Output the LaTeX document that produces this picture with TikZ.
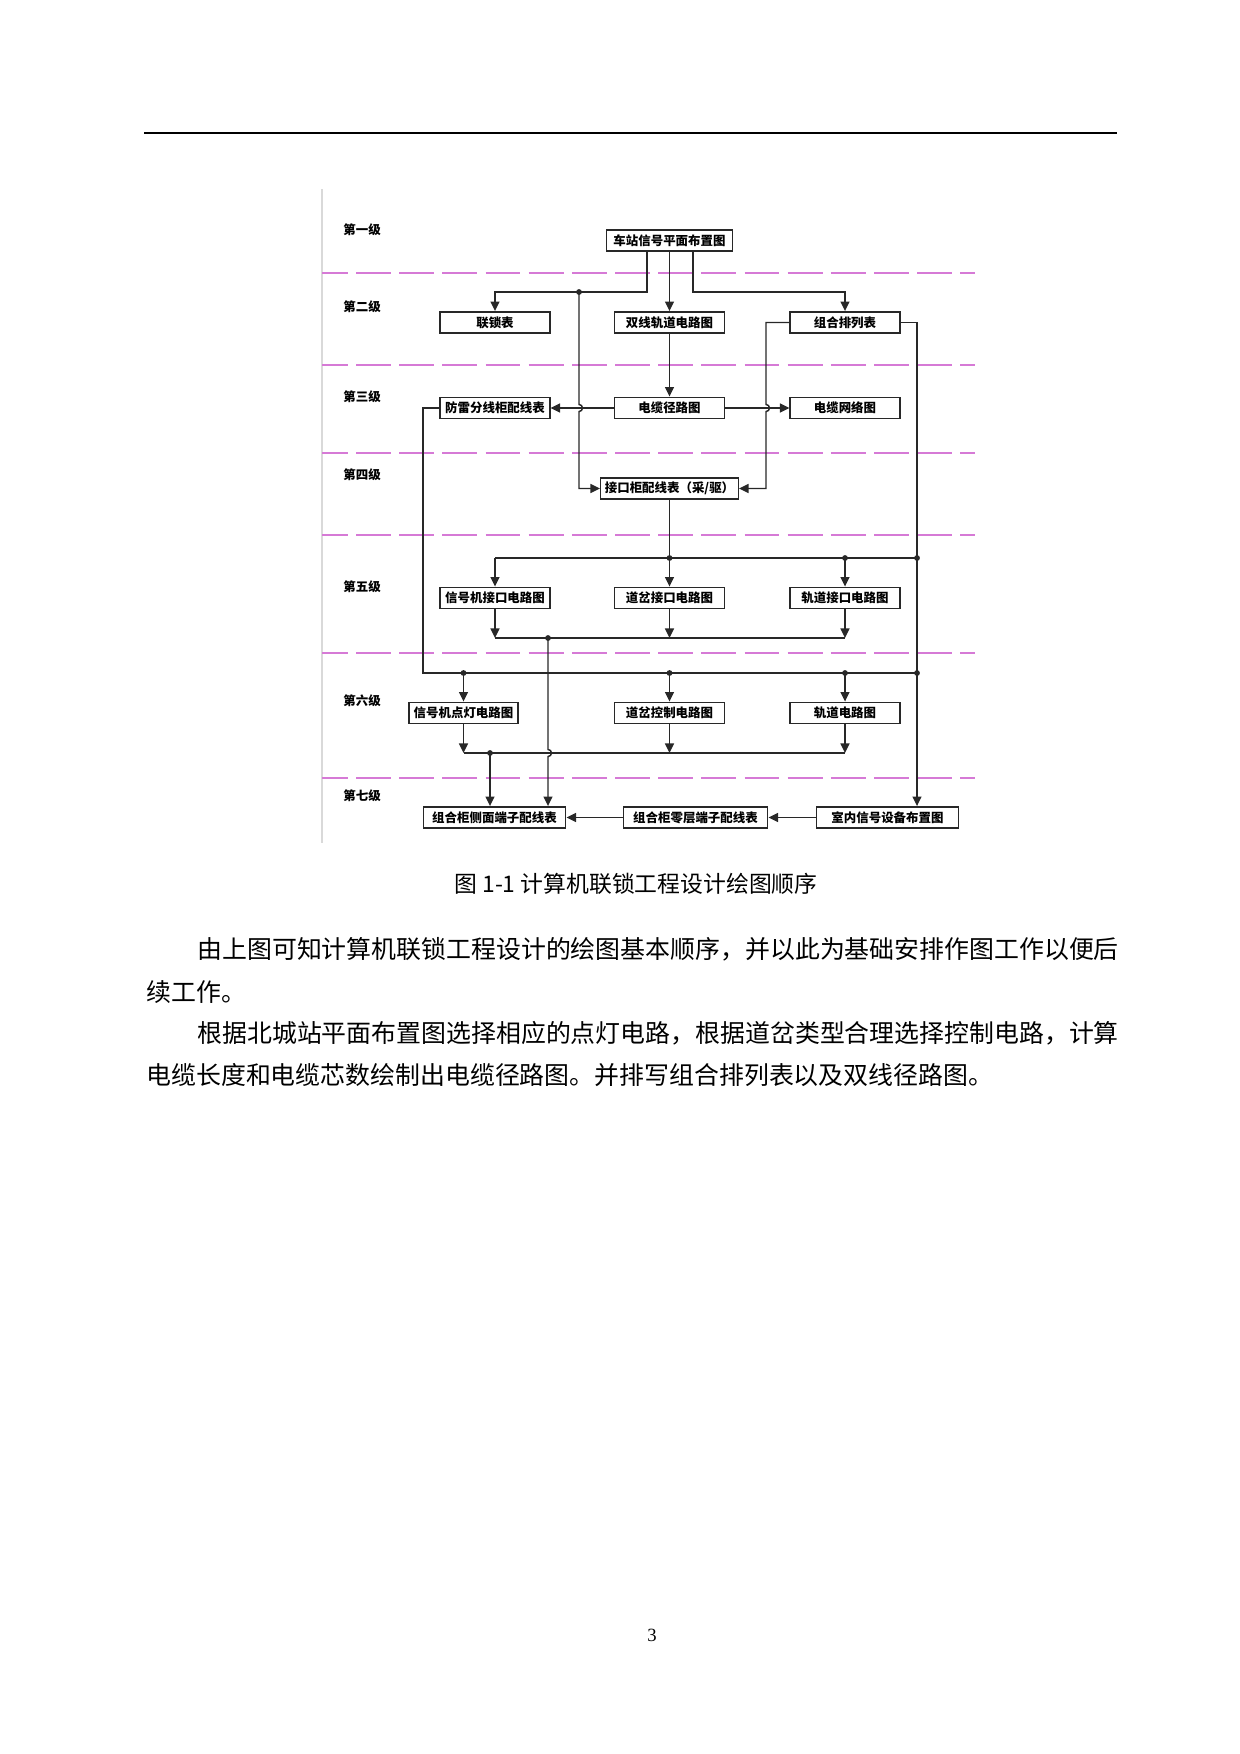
\documentclass[tikz,border=0pt]{standalone}
\usepackage{fontspec}
\usepackage{tikz}
\usetikzlibrary{arrows.meta}
\newfontfamily\cjk{Noto Sans CJK SC}
\newfontfamily\tnr{Liberation Serif}
\newcommand{\pxu}{0.48006pt}
\newcommand{\boxfont}{\cjk\bfseries\fontsize{6}{7}\selectfont}
\definecolor{ink}{RGB}{40,40,40}
\definecolor{levelline}{RGB}{214,122,214}

\begin{document}
\begin{tikzpicture}[x=0.169355mm,y=-0.169355mm,
	box/.style={draw=ink, line width=0.7pt, inner sep=0pt, minimum height=21.5*\pxu, minimum width=110*\pxu, font=\boxfont},
	wide/.style={box, minimum width=143*\pxu},
	link/.style={draw=ink, line width=0.7pt},
	arr/.style={link, -{Triangle[length=4.6pt,width=4.3pt]}},
	tier/.style={anchor=west, inner sep=0pt, font=\boxfont},
	levelsep/.style={levelline, line width=0.6pt, dash pattern=on 16.8pt off 4pt, dash phase=4.4pt},
	bodyline/.style={anchor=west, inner sep=0pt, font=\cjk\fontsize{12}{12}\selectfont}]
	\useasboundingbox (0,0) rectangle (1240,1754);

	% page rule and picture frame
	\draw[line width=0.75pt] (144,133) -- (1117,133);
	\draw[black!15, line width=0.5pt] (322,189) -- (322,843);

	% levels
	\foreach \y in {273,365,453,535,653,778}
		\draw[levelsep] (322,\y) -- (975,\y);
	\foreach \name/\y [count=\i] in {第一级/230, 第二级/307, 第三级/397, 第四级/475, 第五级/587, 第六级/701, 第七级/796}
		\node[tier] (lv\i) at (343,\y) {\name};

	% boxes
	\node[box, minimum width=127*\pxu] (plan) at (669.5,240.5) {车站信号平面布置图};
	\node[box] (lock) at (495,322.5) {联锁表};
	\node[box] (dual) at (669.5,322.5) {双线轨道电路图};
	\node[box] (combo) at (845,322.5) {组合排列表};
	\node[box] (surge) at (495,408) {防雷分线柜配线表};
	\node[box] (route) at (669.5,408) {电缆径路图};
	\node[box] (net) at (845,408) {电缆网络图};
	\node[box, minimum width=138*\pxu] (cab) at (669.5,488.5) {接口柜配线表（采/驱）};
	\node[box] (sigif) at (495,598) {信号机接口电路图};
	\node[box] (swif) at (669.5,598) {道岔接口电路图};
	\node[box] (trif) at (845,598) {轨道接口电路图};
	\node[box, minimum width=109*\pxu] (lamp) at (463.5,713) {信号机点灯电路图};
	\node[box] (swctl) at (669.5,713) {道岔控制电路图};
	\node[box] (trc) at (845,713) {轨道电路图};
	\node[wide] (side) at (494.5,817.5) {组合柜侧面端子配线表};
	\node[wide, minimum width=145*\pxu] (zero) at (695.5,817.5) {组合柜零层端子配线表};
	\node[wide] (room) at (887.5,817.5) {室内信号设备布置图};

	% bends and junctions
	\coordinate (pl) at (647,292);
	\coordinate (pr) at (693,292);
	\coordinate (ja) at (579,292);
	\coordinate (xa) at (579,408);
	\coordinate (xb) at (766,408);
	\coordinate (b5) at (917,558);
	\coordinate (b6) at (917,673);
	\coordinate (sl) at (423,673);
	\coordinate (o5) at (548,638);
	\coordinate (xc) at (548,753);
	\coordinate (o6) at (490,753);

	% first to fourth level
	\draw[arr] (plan.south -| pl) |- (ja) -| (lock.north);
	\draw[arr] (plan) -- (dual);
	\draw[arr] (plan.south -| pr) -- (pr) -| (combo.north);
	\draw[arr] (ja) -- ([yshift=1.7pt]xa) arc[start angle=90, end angle=-90, radius=1.7pt] |- (cab.west);
	\draw[arr] (dual) -- (route);
	\draw[arr] (route) -- (surge);
	\draw[arr] (route) -- (net);
	\draw[arr] (combo.west) -| ([yshift=1.7pt]xb) arc[start angle=90, end angle=-90, radius=1.7pt] |- (cab.east);
	\draw[arr] (combo.east) -| (b5 |- room.north);

	% fifth level
	\draw[link] (cab.south) -- (cab.south |- b5);
	\draw[link] (sigif.north |- b5) -- (b5);
	\foreach \n in {sigif,swif,trif}
		\draw[arr] (\n.north |- b5) -- (\n.north);
	\foreach \n in {sigif,swif,trif}
		\draw[arr] (\n.south) -- (\n.south |- o5);
	\draw[link] (sigif.south |- o5) -- (trif.south |- o5);
	\draw[arr] (o5) -- ([yshift=1.7pt]xc) arc[start angle=90, end angle=-90, radius=1.7pt] -- (xc |- side.north);

	% sixth level
	\draw[link] (surge.west) -| (sl) -- (b6);
	\foreach \n in {lamp,swctl,trc}
		\draw[arr] (\n.north |- b6) -- (\n.north);
	\foreach \n in {lamp,swctl,trc}
		\draw[arr] (\n.south) -- (\n.south |- o6);
	\draw[link] (lamp.south |- o6) -- (trc.south |- o6);
	\draw[arr] (o6) -- (o6 |- side.north);

	% seventh level
	\draw[arr] (room) -- (zero);
	\draw[arr] (zero) -- (side);

	\foreach \p in {(ja), (b5), (b6), (o5), (o6), (cab.south |- b5), (trif.north |- b5), (lamp.north |- b6), (swctl.north |- b6), (trc.north |- b6)}
		\fill[ink] \p circle (1.4pt);

	% caption and text
	\node[inner sep=0pt, font=\cjk\fontsize{11}{11}\selectfont] (caption) at (636,884) {图 1-1 计算机联锁工程设计绘图顺序};
	\node[bodyline] (p1) at (197,949) {由上图可知计算机联锁工程设计的绘图基本顺序，并以此为基础安排作图工作以便后};
	\node[bodyline] (p2) at (146,992) {续工作。};
	\node[bodyline] (p3) at (197,1033) {根据北城站平面布置图选择相应的点灯电路，根据道岔类型合理选择控制电路，计算};
	\node[bodyline] (p4) at (146,1075) {电缆长度和电缆芯数绘制出电缆径路图。并排写组合排列表以及双线径路图。};
	\node[inner sep=0pt, font=\tnr\fontsize{9}{9}\selectfont] (page) at (652,1635) {3};
\end{tikzpicture}
\end{document}
